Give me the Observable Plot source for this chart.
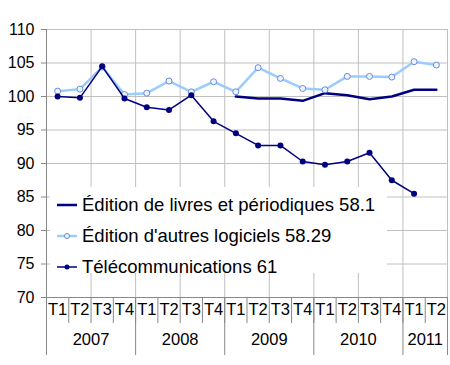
<!DOCTYPE html>
<html><head><meta charset="utf-8">
<script src="https://cdn.jsdelivr.net/npm/d3@7"></script>
<script src="https://cdn.jsdelivr.net/npm/@observablehq/plot@0.6"></script>
<style>
body{margin:0;background:#fff;font-family:"Liberation Sans",Arial,sans-serif}
#wrap{position:relative;width:450px;height:365px}
#legend{position:absolute;left:50px;top:187px;width:337px;height:86px;background:#fff}
.item{position:absolute;left:7px;height:31px;display:flex;align-items:center;font-size:18.5px;color:#000;white-space:nowrap}
.item svg{margin-right:4px}
</style></head><body><div id="wrap"></div>
<script>
const quarters = ["T1","T2","T3","T4","T1","T2","T3","T4","T1","T2","T3","T4","T1","T2","T3","T4","T1","T2"];
const years = ["2007","2008","2009","2010","2011"];
const yearQuarterCounts = [4,4,4,4,2];
const books = [null,null,null,null,null,null,null,null,100.0,99.7,99.7,99.35,100.5,100.2,99.6,100.0,101.0,101.0];
const software = [100.8,101.1,104.4,100.3,100.5,102.3,100.7,102.2,100.7,104.3,102.7,101.2,101.0,103.0,103.0,102.9,105.2,104.7];
const telecom = [100.0,99.8,104.5,99.7,98.4,98.0,100.2,96.3,94.5,92.7,92.7,90.3,89.8,90.3,91.6,87.5,85.5,null];
const seriesNames = ["Édition de livres et périodiques 58.1","Édition d'autres logiciels 58.29","Télécommunications 61"];
const yTicks = [70,75,80,85,90,95,100,105,110];

const table = quarters.map((q,i)=>({i, q, books: books[i], software: software[i], telecom: telecom[i]}));
let start = 0;
const yearTable = years.map((y,k)=>{const s=start; start+=yearQuarterCounts[k]; return {year:y, s, e:start};});
const yearBounds = [0, ...yearTable.map(d=>d.e)];
const qBounds = d3.range(quarters.length+1);
const gridX = d3.range(2, quarters.length+1, 2);

const navy = "#000080", light = "#99ccff", grid = "#c0c0c0", axis = "#888888";
const xc = d => d.i + 0.5;

const chart = Plot.plot({
  width: 450, height: 365,
  marginLeft: 46, marginRight: 3, marginTop: 29, marginBottom: 68,
  style: {fontFamily: '"Liberation Sans", Arial, sans-serif', background: "#fff"},
  x: {type: "linear", domain: [0, quarters.length], axis: null},
  y: {domain: [70, 110], axis: null},
  marks: [
    Plot.ruleY(yTicks.slice(1), {stroke: grid}),
    Plot.ruleX(gridX, {stroke: grid}),
    Plot.ruleY([70], {stroke: axis}),
    Plot.ruleX([0], {stroke: axis}),
    Plot.axisY(yTicks, {tickSize: 5, tickPadding: 7, fontSize: 16, stroke: axis, fill: "#000"}),
    Plot.axisX(qBounds, {tickSize: 26, tickFormat: () => "", stroke: axis}),
    Plot.axisX(yearBounds, {tickSize: 58, tickFormat: () => "", stroke: axis}),
    Plot.text(table, {x: xc, frameAnchor: "bottom", dy: 17, text: "q", fontSize: 16.5, fill: "#000"}),
    Plot.text(yearTable, {x: d => (d.s + d.e)/2, frameAnchor: "bottom", dy: 47, text: "year", fontSize: 16.5, fill: "#000"}),
    Plot.line(table, {x: xc, y: "books", stroke: navy, strokeWidth: 2.5}),
    Plot.line(table, {x: xc, y: "software", stroke: light, strokeWidth: 2.5}),
    Plot.dot(table, {x: xc, y: "software", r: 3, stroke: "#6a8ad8", fill: "#eef4ff", strokeWidth: 1}),
    Plot.line(table, {x: xc, y: "telecom", stroke: navy, strokeWidth: 1.5}),
    Plot.dot(table, {x: xc, y: "telecom", r: 3, fill: navy, stroke: "none"})
  ]
});
const wrap = document.getElementById("wrap");
wrap.appendChild(chart);

const legend = document.createElement("div");
legend.id = "legend";
const swatches = [
  `<svg width="21" height="10"><line x1="0" x2="20" y1="5" y2="5" stroke="${navy}" stroke-width="2.5"/></svg>`,
  `<svg width="21" height="10"><line x1="0" x2="20" y1="5" y2="5" stroke="${light}" stroke-width="2.5"/><circle cx="10" cy="5" r="2.5" fill="#eef4ff" stroke="#6a8ad8"/></svg>`,
  `<svg width="21" height="10"><line x1="0" x2="20" y1="5" y2="5" stroke="${navy}" stroke-width="1.5"/><circle cx="10" cy="5" r="2.5" fill="${navy}"/></svg>`
];
seriesNames.forEach((name,k)=>{
  const it = document.createElement("div");
  it.className = "item";
  it.style.top = (2 + k*31) + "px";
  it.innerHTML = swatches[k] + "<span></span>";
  it.querySelector("span").textContent = name;
  legend.appendChild(it);
});
wrap.appendChild(legend);
</script></body></html>
